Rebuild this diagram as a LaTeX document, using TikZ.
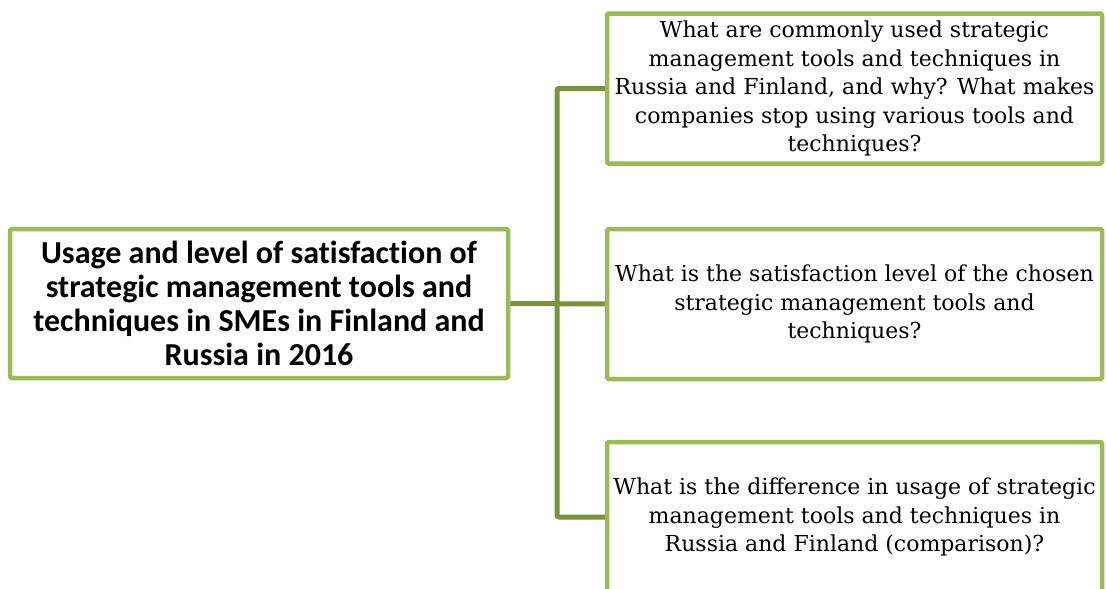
\documentclass[tikz,border=0pt]{standalone}
\usepackage{fontspec}
\setmainfont{DejaVu Serif}
\newfontfamily\headfont[Ligatures=NoCommon]{Carlito}
\usepackage{xcolor}
\usetikzlibrary{calc, positioning}
\definecolor{boxgreen}{RGB}{155,187,89}
\definecolor{linkgreen}{RGB}{119,147,60}

\begin{document}
\begin{tikzpicture}[
  x=1pt, y=-1pt,
  topic/.style={draw=boxgreen, line width=4.5pt, fill=white, rounded corners=1.5pt,
                minimum width=498pt, minimum height=149pt, align=center,
                font=\headfont\bfseries\fontsize{32}{34}\selectfont},
  question/.style={draw=boxgreen, line width=4.5pt, fill=white, rounded corners=1.5pt,
                   minimum width=495pt, minimum height=150pt, align=center,
                   font=\fontsize{22}{28.5}\selectfont},
  link/.style={draw=linkgreen, line width=5pt, rounded corners=2pt}
]
\useasboundingbox (0,0) rectangle (1106,589);
\clip (0,0) rectangle (1106,589);
\node[topic] (goal) at (259,303.5)
  {Usage and level of satisfaction of\\ strategic management tools and\\
   techniques in SMEs in Finland and\\ Russia in 2016};
\node[question] (q1) at (854.5,88.5)
  {What are commonly used strategic\\ management tools and techniques in\\
   Russia and Finland, and why? What makes\\ companies stop using various tools and\\ techniques?};
\node[question] (q2) at (854.5,304)
  {What is the satisfaction level of the chosen\\ strategic management tools and\\ techniques?};
\node[question] (q3) at (854.5,517)
  {What is the difference in usage of strategic\\ management tools and techniques in\\
   Russia and Finland (comparison)?};
% branches
\coordinate (fork) at (557,304);
\draw[link] (goal.east) -- (q2.west);
\draw[link] (fork) |- (q1.west);
\draw[link] (fork) |- (q3.west);
\end{tikzpicture}
\end{document}
